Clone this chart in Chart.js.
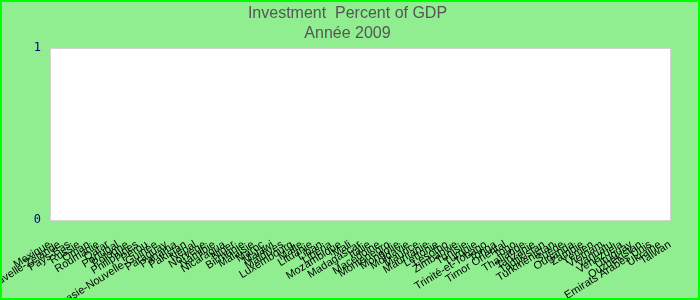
<!DOCTYPE html>
<html>
<head>
<meta charset="utf-8">
<script src="https://cdn.jsdelivr.net/npm/chart.js@4"></script>
<style>
  html, body { margin: 0; padding: 0; }
  #wrap { width: 700px; height: 300px; box-sizing: border-box; border: 2px solid #00ff00; background: #90ee90; overflow: hidden; }
</style>
</head>
<body>
<div id="wrap"><canvas id="invChart"></canvas></div>
<script>
// countries, in the order shown on the axis
const countries = ['Mexique', 'Nouvelle-Zélande', 'Pays-Bas', 'Russie', 'Oman', 'Roumanie', 'Qatar',
  'Portugal', 'Pologne', 'Philippines', 'Pérou', 'Papouasie-Nouvelle-Guinée', 'Paraguay', 'Panama',
  'Pakistan', 'Népal', 'Norvège', 'Namibie', 'Nicaragua', 'Niger', 'Birmanie', 'Malaisie', 'Maroc',
  'Malawi', 'Maldives', 'Luxembourg', 'Malte', 'Lituanie', 'Liban', 'Libéria', 'Mozambique', 'Mali',
  'Madagascar', 'Italie', 'Macédoine', 'Montenegro', 'Mongolie', 'Moldavie', 'Maurice', 'Mauritanie',
  'Lettonie', 'Lesotho', 'Zimbabwe', 'Tunisie', 'Turquie', 'Trinité-et-Tobago', 'Tonga', 'Timor Oriental',
  'Togo', 'Thaïlande', 'Tanzanie', 'Tadjikistan', 'Turkménistan', 'Suède', 'Ouganda', 'Zambie', 'Yémen',
  'Vietnam', 'Vanuatu', 'Venezuela', 'Uruguay', 'Ouzbékistan', 'Emirats Arabes Unis', 'Ukraine', 'Taiwan'];

// no values are drawn in the picture for 2009
const investment = [];

const yTicks = [0, 1];

const plotBg = {
  id: 'plotBg',
  beforeDraw(chart) {
    const {ctx, chartArea: a} = chart;
    ctx.save();
    ctx.fillStyle = '#ffffff';
    ctx.fillRect(a.left, a.top, a.right - a.left, a.bottom - a.top);
    ctx.strokeStyle = '#d3d3d3';
    ctx.lineWidth = 1;
    ctx.strokeRect(a.left + 0.5, a.top + 0.5, a.right - a.left, a.bottom - a.top);
    ctx.restore();
  }
};

new Chart(document.getElementById('invChart'), {
  type: 'line',
  data: {
    labels: countries,
    datasets: [{
      label: 'Investment',
      data: investment,
      borderColor: '#3366cc',
      pointRadius: 0
    }]
  },
  options: {
    responsive: true,
    maintainAspectRatio: false,
    animation: false,
    layout: { padding: { left: 23, right: 28, top: 0, bottom: 0 } },
    plugins: {
      legend: { display: false },
      tooltip: { enabled: false },
      title: {
        display: true,
        text: ['Investment  Percent of GDP', 'Année 2009'],
        color: '#555555',
        font: { family: 'Liberation Sans, Arial', size: 16, weight: 'normal', lineHeight: 1.25 },
        padding: { top: 2, bottom: 4 }
      }
    },
    scales: {
      x: {
        grid: { display: false, drawTicks: false },
        border: { display: false },
        afterFit(axis) { axis.height = 78; axis.paddingLeft = 0; axis.paddingRight = 0; },
        ticks: {
          autoSkip: false,
          minRotation: 32,
          maxRotation: 32,
          color: '#000000',
          padding: 18,
          font: { family: 'Liberation Sans, Arial', size: 11 }
        }
      },
      y: {
        min: yTicks[0],
        max: yTicks[yTicks.length - 1],
        grid: { display: false, drawTicks: false },
        border: { display: false },
        afterBuildTicks(axis) { axis.ticks = yTicks.map(v => ({ value: v })); },
        afterFit(axis) { axis.width = 25; },
        ticks: {
          color: '#00008b',
          padding: 9,
          font: { family: 'DejaVu Sans Mono', size: 12 }
        }
      }
    }
  },
  plugins: [plotBg]
});
</script>
</body>
</html>
